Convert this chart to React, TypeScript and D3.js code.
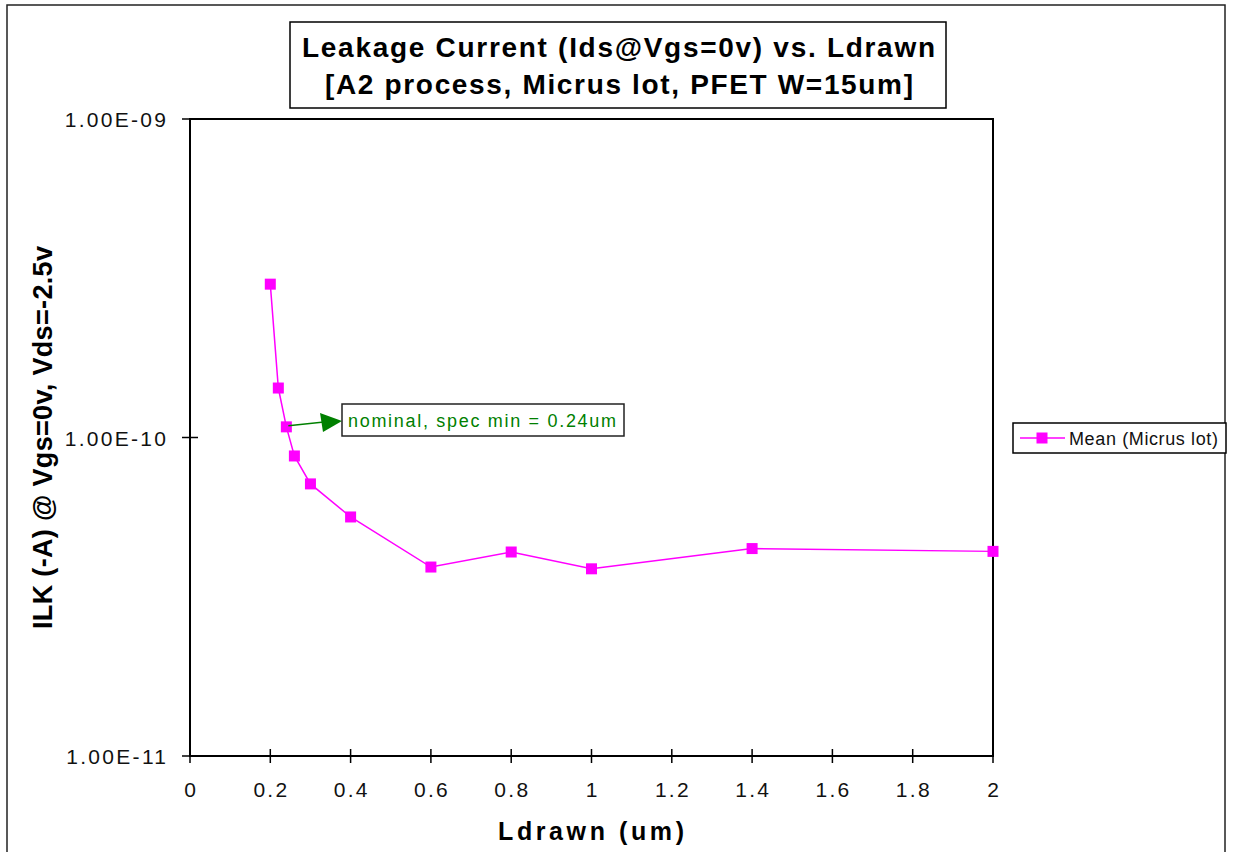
import { useEffect, useRef } from 'react'
import * as d3 from "d3"

// Ldrawn (um) vs mean leakage current (A)
const ldrawn = [0.2, 0.22, 0.24, 0.26, 0.3, 0.4, 0.6, 0.8, 1.0, 1.4, 2.0]
const ilkMean = [3.03e-10, 1.43e-10, 1.08e-10, 8.75e-11, 7.15e-11, 5.63e-11, 3.92e-11, 4.37e-11, 3.87e-11, 4.48e-11, 4.39e-11]
const xTicks = [0, 0.2, 0.4, 0.6, 0.8, 1, 1.2, 1.4, 1.6, 1.8, 2]
const yTicks = [1e-11, 1e-10, 1e-9]
const yTickLabels = ["1.00E-11", "1.00E-10", "1.00E-09"]
const titleLines = ["Leakage Current (Ids@Vgs=0v) vs. Ldrawn", "[A2 process, Micrus lot, PFET W=15um]"]
const seriesName = "Mean (Micrus lot)"
const noteText = "nominal, spec min = 0.24um"

const font = "Arial, 'Liberation Sans', sans-serif"
const magenta = "#ff00ff"
const green = "#008000"

function App() {
  const svgRef = useRef(null)
  const width = 1233
  const height = 852
  const plot = { x0: 190, x1: 993, y0: 119, y1: 756 }

  useEffect(() => {
    const svg = d3.select(svgRef.current)
    svg.selectAll("*").remove()

    const x = d3.scaleLinear().domain([0, 2]).range([plot.x0, plot.x1])
    const y = d3.scaleLog().domain([1e-11, 1e-9]).range([plot.y1, plot.y0])

    // outer chart frame
    svg.append("rect")
      .attr("x", 7).attr("y", 5)
      .attr("width", 1218).attr("height", 860)
      .attr("fill", "white")
      .attr("stroke", "#222").attr("stroke-width", 1.5)

    // plot frame
    svg.append("rect")
      .attr("x", plot.x0).attr("y", plot.y0)
      .attr("width", plot.x1 - plot.x0).attr("height", plot.y1 - plot.y0)
      .attr("fill", "none")
      .attr("stroke", "black").attr("stroke-width", 2)

    const tickSpacing = 2.3

    // x ticks
    const xg = svg.append("g")
    xg.selectAll("line")
      .data(xTicks)
      .join("line")
      .attr("x1", d => x(d)).attr("x2", d => x(d))
      .attr("y1", plot.y1 - 7).attr("y2", plot.y1 + 7)
      .attr("stroke", "black").attr("stroke-width", 1.5)
    xg.selectAll("text")
      .data(xTicks)
      .join("text")
      .attr("x", d => x(d) + tickSpacing / 2).attr("y", 797)
      .attr("text-anchor", "middle")
      .attr("font-family", font).attr("font-size", 21)
      .attr("letter-spacing", tickSpacing)
      .attr("fill", "#111")
      .text(d => String(d))

    // y ticks
    const yg = svg.append("g")
    yg.selectAll("line")
      .data(yTicks)
      .join("line")
      .attr("x1", plot.x0 - 8).attr("x2", plot.x0 + 8)
      .attr("y1", d => y(d)).attr("y2", d => y(d))
      .attr("stroke", "black").attr("stroke-width", 1.5)
    yg.selectAll("text")
      .data(yTicks)
      .join("text")
      .attr("x", 166 + tickSpacing).attr("y", d => y(d) + 8)
      .attr("text-anchor", "end")
      .attr("font-family", font).attr("font-size", 21)
      .attr("letter-spacing", tickSpacing)
      .attr("fill", "#111")
      .text((d, i) => yTickLabels[i])

    // axis titles
    svg.append("text")
      .attr("x", 498).attr("y", 840)
      .attr("font-family", font).attr("font-size", 25).attr("font-weight", "bold")
      .attr("textLength", 186).attr("lengthAdjust", "spacing")
      .text("Ldrawn (um)")
    svg.append("text")
      .attr("transform", `translate(52, 438) rotate(-90)`)
      .attr("x", -191)
      .attr("font-family", font).attr("font-size", 27).attr("font-weight", "bold")
      .attr("textLength", 383).attr("lengthAdjust", "spacing")
      .text("ILK (-A) @ Vgs=0v, Vds=-2.5v")

    // title box
    svg.append("rect")
      .attr("x", 290).attr("y", 22)
      .attr("width", 656).attr("height", 86)
      .attr("fill", "white")
      .attr("stroke", "black").attr("stroke-width", 1.5)
    svg.selectAll("text.title")
      .data(titleLines)
      .join("text")
      .attr("class", "title")
      .attr("x", (d, i) => i === 0 ? 302 : 325)
      .attr("y", (d, i) => i === 0 ? 57 : 94)
      .attr("font-family", font).attr("font-size", 28).attr("font-weight", "bold")
      .attr("textLength", (d, i) => i === 0 ? 633 : 588)
      .attr("lengthAdjust", "spacing")
      .text(d => d)

    // series line + markers
    const pts = ldrawn.map((l, i) => [l, ilkMean[i]])
    const line = d3.line().x(d => x(d[0])).y(d => y(d[1]))
    svg.append("path")
      .datum(pts)
      .attr("d", line)
      .attr("fill", "none")
      .attr("stroke", magenta).attr("stroke-width", 1.5)
    const ms = 11
    svg.selectAll("rect.marker")
      .data(pts)
      .join("rect")
      .attr("class", "marker")
      .attr("x", d => x(d[0]) - ms / 2).attr("y", d => y(d[1]) - ms / 2)
      .attr("width", ms).attr("height", ms)
      .attr("fill", magenta)

    // annotation arrow pointing at 0.24um point
    const ax = x(0.24), ay = y(1.08e-10)
    const tipX = 342, tipY = 421
    svg.append("line")
      .attr("x1", ax + 2).attr("y1", ay - 1)
      .attr("x2", tipX - 18).attr("y2", tipY + 1)
      .attr("stroke", green).attr("stroke-width", 1.5)
    svg.append("path")
      .attr("d", `M${tipX},${tipY} L${tipX - 22},${tipY - 8} L${tipX - 19},${tipY + 11} Z`)
      .attr("fill", green)
    svg.append("rect")
      .attr("x", 342).attr("y", 404)
      .attr("width", 282).attr("height", 32)
      .attr("fill", "white")
      .attr("stroke", "#222").attr("stroke-width", 1.5)
    svg.append("text")
      .attr("x", 348).attr("y", 427)
      .attr("font-family", font).attr("font-size", 18)
      .attr("fill", green)
      .attr("textLength", 268).attr("lengthAdjust", "spacing")
      .text(noteText)

    // legend
    const lg = svg.append("g")
    lg.append("rect")
      .attr("x", 1013).attr("y", 423)
      .attr("width", 213).attr("height", 30)
      .attr("fill", "white")
      .attr("stroke", "black").attr("stroke-width", 1.5)
    lg.append("line")
      .attr("x1", 1020).attr("x2", 1065)
      .attr("y1", 438).attr("y2", 438)
      .attr("stroke", magenta).attr("stroke-width", 1.5)
    lg.append("rect")
      .attr("x", 1042 - 5.5).attr("y", 438 - 5.5)
      .attr("width", 11).attr("height", 11)
      .attr("fill", magenta)
    lg.append("text")
      .attr("x", 1069).attr("y", 444.5)
      .attr("font-family", font).attr("font-size", 18)
      .attr("fill", "#111")
      .attr("textLength", 149).attr("lengthAdjust", "spacing")
      .text(seriesName)
  }, [])

  return (
    <svg ref={svgRef} width={width} height={height}
      style={{ position: 'absolute', left: 0, top: 0, background: 'white' }}> </svg>
  )
}

export default App
